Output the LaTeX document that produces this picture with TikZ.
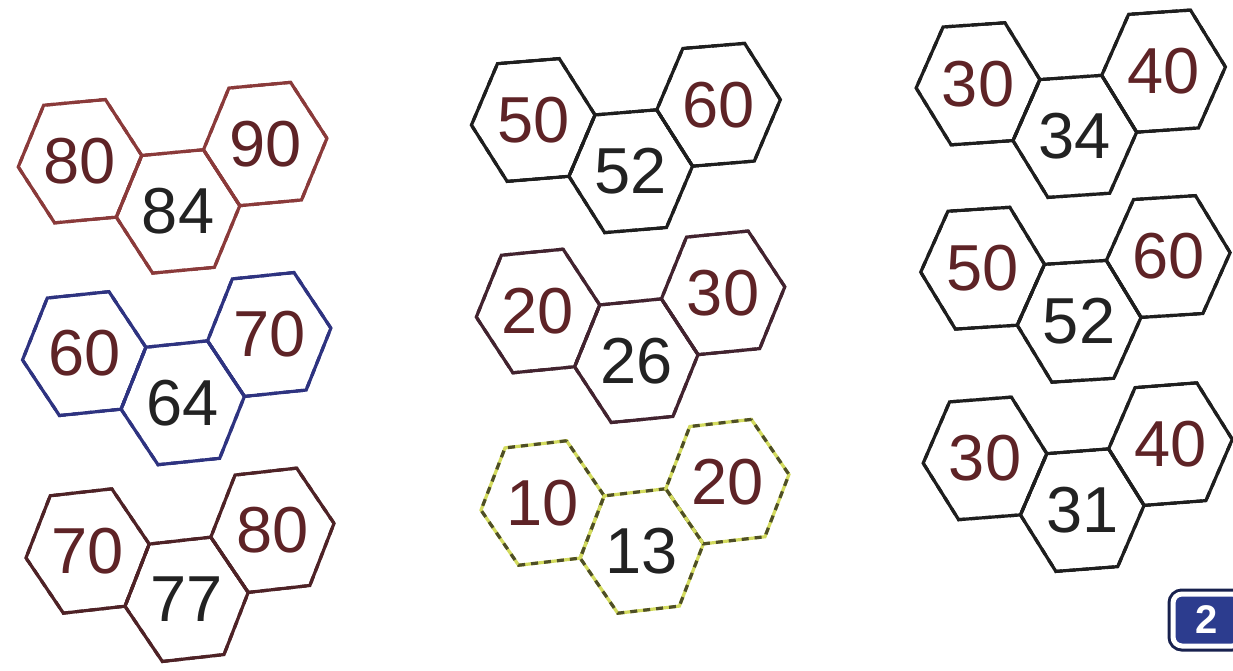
\documentclass[tikz,border=0pt]{standalone}
\usepackage{fontspec}
\setmainfont{Liberation Sans}
\usepackage{tikz}
\usetikzlibrary{shapes.geometric}
\definecolor{brickline}{HTML}{8A3A3A}
\definecolor{navyline}{HTML}{2E3380}
\definecolor{maroonline}{HTML}{4E2226}
\definecolor{inkline}{HTML}{1E1E1E}
\definecolor{plumline}{HTML}{42232F}
\definecolor{limeline}{HTML}{D3DB5E}
\definecolor{oliveline}{HTML}{4E4E26}
\definecolor{numred}{HTML}{5E2326}
\definecolor{numink}{HTML}{222222}
\definecolor{pagenavy}{HTML}{2C3C8E}

\begin{document}
\begin{tikzpicture}[
      x=1pt, y=1pt,
      cell/.style={regular polygon, regular polygon sides=6, minimum size=124pt,
                   inner sep=0pt, line width=3.2pt, draw=triodash,
                   dash pattern=on 7pt off 6pt,
                   preaction={draw=trioline, solid, line width=3.2pt}},
      num/.style={inner sep=0pt, font=\fontsize{65}{65}\selectfont},
      outer/.style={num, text=numred},
      inner/.style={num, text=numink},
      badge/.style={fill=pagenavy, draw=white, line width=5pt, rounded corners=9pt,
                    minimum width=68pt, minimum height=52pt, text=white,
                    font=\bfseries\fontsize{40}{40}\selectfont,
                    preaction={draw=pagenavy!55!black, line width=11pt}}]
  \useasboundingbox (0,0) rectangle (1233,670);
  % one trio per row: left, middle (lower), right
  \foreach \trio/\cx/\cy/\ang/\lc/\dc/\lnum/\mnum/\rnum in {
      a1/80.0/508.8/5.3/brickline/brickline/80/84/90,
      a2/84.2/316.4/5.9/navyline/navyline/60/64/70,
      a3/87.6/119.0/6.4/maroonline/maroonline/70/77/80,
      b1/533.2/550.0/4.7/inkline/inkline/50/52/60,
      b2/538.0/359.0/5.6/plumline/plumline/20/26/30,
      b3/542.6/167.0/6.6/limeline/oliveline/10/13/20,
      c1/978.0/586.2/3.9/inkline/inkline/30/34/40,
      c2/982.6/401.8/3.6/inkline/inkline/50/52/60,
      c3/985.0/211.6/4.4/inkline/inkline/30/31/40} {
    \colorlet{trioline}{\lc}
    \colorlet{triodash}{\dc}
    \begin{scope}[shift={(\cx,\cy)}, rotate=\ang, yscale=1.1, transform shape]
      \node[cell] (\trio-left) at (0,0) {};
      \node[cell] (\trio-mid) at (93,-53.69) {};
      \node[cell] (\trio-right) at (186,0) {};
    \end{scope}
    \node[outer] (\trio-lnum) at (\trio-left) {\lnum};
    \node[inner] (\trio-mnum) at (\trio-mid) {\mnum};
    \node[outer] (\trio-rnum) at (\trio-right) {\rnum};
  }
  \node[badge] (page) at (1207,50) {2};
\end{tikzpicture}
\end{document}
